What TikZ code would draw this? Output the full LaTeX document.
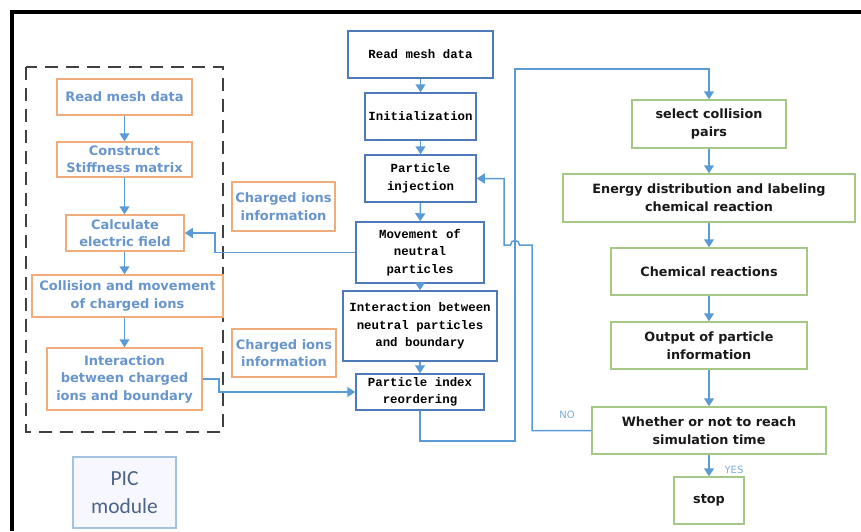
\documentclass[tikz,border=0pt]{standalone}
\usepackage{fontspec}
\setmainfont{DejaVu Sans}
\newfontfamily\monof{Liberation Mono}
\newfontfamily\carl{Carlito}
\usetikzlibrary{arrows.meta}
\definecolor{orangeb}{RGB}{240,172,122}
\definecolor{ltext}{RGB}{104,150,204}
\definecolor{midb}{RGB}{78,122,186}
\definecolor{greenb}{RGB}{165,200,135}
\definecolor{arrc}{RGB}{91,155,213}
\definecolor{picb}{RGB}{165,195,225}
\definecolor{pict}{RGB}{75,100,135}
\definecolor{ynl}{RGB}{125,170,215}
\tikzset{
  lbox/.style={draw=orangeb, line width=1.5pt, inner sep=0pt, align=center,
    text=ltext, font={\fontsize{13}{17.5}\selectfont\bfseries}},
  mbox/.style={draw=midb, line width=1.5pt, inner sep=0pt, align=center,
    text=black, font={\monof\fontsize{12.4}{17.5}\selectfont\bfseries}},
  rbox/.style={draw=greenb, line width=1.5pt, inner sep=0pt, align=center,
    text=black!90, font={\fontsize{12.8}{18}\selectfont\bfseries}},
  arr/.style={draw=arrc, line width=1.5pt, -{Triangle[length=8pt,width=10pt]}},
  ynlab/.style={text=ynl, font={\fontsize{10}{12}\selectfont}, inner sep=0pt}
}
\begin{document}
\begin{tikzpicture}[x=1pt,y=-1pt]
\useasboundingbox (0,0) rectangle (861,531);
% frame
\draw[line width=4pt, black] (11.5,531) -- (11.5,11.5) -- (861,11.5);
% dashed PIC region
\draw[black!75, line width=1.4pt, dash pattern=on 13pt off 8pt] (26,67) rectangle (223,432);

% left column
\node[lbox, minimum width=135pt, minimum height=36pt] (L1) at (124.5,97) {Read mesh data};
\node[lbox, minimum width=135pt, minimum height=35pt] (L2) at (124.5,159.5) {Construct\\Stiffness matrix};
\node[lbox, minimum width=118pt, minimum height=36pt] (L3) at (125,233) {Calculate\\electric field};
\node[lbox, minimum width=191pt, minimum height=42pt] (L4) at (127.5,296) {Collision and movement\\of charged ions};
\node[lbox, minimum width=155pt, minimum height=62pt] (L5) at (124.5,379) {Interaction\\between charged\\ions and boundary};

\node[lbox, minimum width=103pt, minimum height=49pt] (C1) at (283.5,206.5) {Charged ions\\information};
\node[lbox, minimum width=104pt, minimum height=48pt] (C2) at (284,353) {Charged ions\\information};

\node[draw=picb, line width=1.5pt, inner sep=0pt, align=center, fill=blue!3,
  text=pict, font={\carl\fontsize{21.5}{28}\selectfont},
  minimum width=103pt, minimum height=71pt] (PIC) at (124.5,492.5) {PIC\\module};

% middle column
\node[mbox, minimum width=145pt, minimum height=47pt] (M1) at (420.5,54.5) {Read mesh data};
\node[mbox, minimum width=111pt, minimum height=47pt] (M2) at (420.5,116.5) {Initialization};
\node[mbox, minimum width=111pt, minimum height=47pt] (M3) at (420.5,178.5) {Particle\\injection};
\node[mbox, minimum width=128pt, minimum height=61pt] (M4) at (420,252.5) {Movement of\\neutral\\particles};
\node[mbox, minimum width=154pt, minimum height=70pt] (M5) at (420,326) {Interaction between\\neutral particles\\and boundary};
\node[mbox, minimum width=128pt, minimum height=36pt] (M6) at (420,392) {Particle index\\reordering};

% right column
\node[rbox, minimum width=154pt, minimum height=48pt] (R1) at (709,124) {select collision\\pairs};
\node[rbox, minimum width=292pt, minimum height=48pt] (R2) at (709,198) {Energy distribution and labeling\\chemical reaction};
\node[rbox, minimum width=196pt, minimum height=47pt] (R3) at (709,271.5) {Chemical reactions};
\node[rbox, minimum width=196pt, minimum height=47pt] (R4) at (709,345.5) {Output of particle\\information};
\node[rbox, minimum width=234pt, minimum height=47pt] (R5) at (709,430.5) {Whether or not to reach\\simulation time};
\node[rbox, minimum width=70pt, minimum height=47pt] (R6) at (709,500.5) {stop};

% left arrows
\draw[arr] (L1) -- (L2);
\draw[arr] (L2) -- (L2 |- L3.north);
\draw[arr] (L3.south -| L2) -- (L2 |- L4.north);
\draw[arr] (L4.south -| L2) -- (L5);

% middle arrows
\draw[arr] (M1) -- (M2);
\draw[arr] (M2) -- (M3);
\draw[arr] (M3) -- (M4);
\draw[arr] (M4) -- (M5);
\draw[arr] (M5) -- (M6);

% right arrows
\draw[arr] (R1) -- (R2);
\draw[arr] (R2) -- (R3);
\draw[arr] (R3) -- (R4);
\draw[arr] (R4) -- (R5);
\draw[arr] (R5) -- (R6);

% cross connectors
\coordinate (j1) at (215,252.5);
\draw[arr] (M4.west) -- (j1) |- (L3.east);
\coordinate (j2) at (219,379);
\draw[arr] (L5.east) -- (j2) |- (M6.west);
\coordinate (a1) at (515,441);
\coordinate (a2) at (515,69);
\draw[arr] (M6.south) |- (a1) -- (a2) -| (R1.north);
\coordinate (b1) at (532,430.5);
\coordinate (b2) at (532,245);
\coordinate (b3) at (519.5,245);
\coordinate (b4) at (510.5,245);
\coordinate (b5) at (504,245);
\draw[arr] (R5.west) -- (b1) -- (b2) -- (b3) .. controls (519.5,239) and (510.5,239) .. (b4) -- (b5) |- (M3.east);

% labels
\node[ynlab] (no) at (567,415) {NO};
\node[ynlab] (yes) at (734,470) {YES};
\end{tikzpicture}
\end{document}
